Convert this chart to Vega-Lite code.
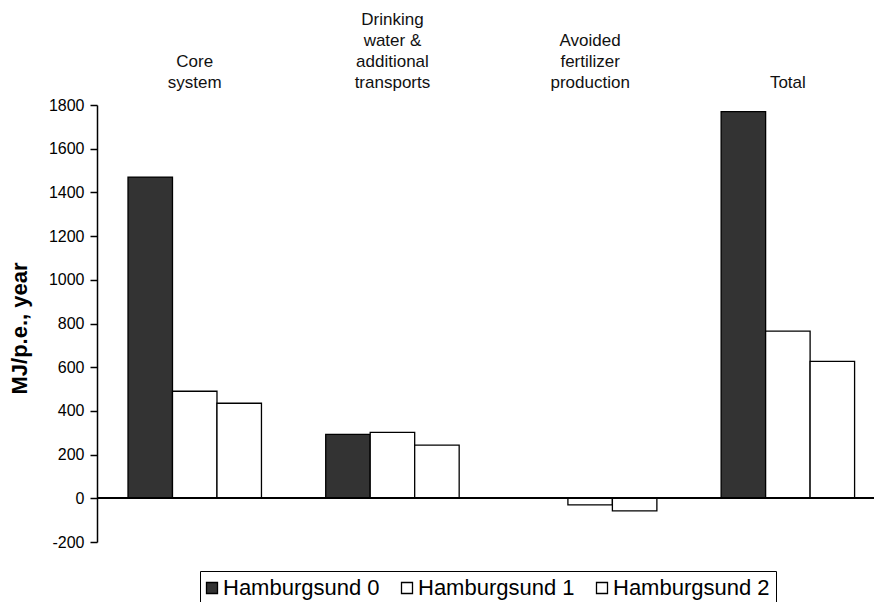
{
  "$schema": "https://vega.github.io/schema/vega-lite/v6.json",
  "width": 777,
  "height": 437,
  "autosize": {"type": "none"},
  "padding": {"left": 97, "top": 105, "right": 0, "bottom": 60},
  "background": "white",
  "config": {"view": {"stroke": null}, "font": "Liberation Sans"},
  "data": {
    "values": [
      {"category": "Core system", "series": "Hamburgsund 0", "value": 1470},
      {"category": "Core system", "series": "Hamburgsund 1", "value": 490},
      {"category": "Core system", "series": "Hamburgsund 2", "value": 435},
      {"category": "Drinking water & additional transports", "series": "Hamburgsund 0", "value": 293},
      {"category": "Drinking water & additional transports", "series": "Hamburgsund 1", "value": 302},
      {"category": "Drinking water & additional transports", "series": "Hamburgsund 2", "value": 243},
      {"category": "Avoided fertilizer production", "series": "Hamburgsund 0", "value": 0},
      {"category": "Avoided fertilizer production", "series": "Hamburgsund 1", "value": -30},
      {"category": "Avoided fertilizer production", "series": "Hamburgsund 2", "value": -58},
      {"category": "Total", "series": "Hamburgsund 0", "value": 1770},
      {"category": "Total", "series": "Hamburgsund 1", "value": 765},
      {"category": "Total", "series": "Hamburgsund 2", "value": 627}
    ]
  },
  "layer": [
    {
      "mark": {"type": "bar", "stroke": "black", "strokeWidth": 1.3},
      "encoding": {
        "x": {
          "field": "category",
          "type": "nominal",
          "sort": null,
          "scale": {"paddingInner": 0.325, "paddingOuter": 0.1275, "align": 0.615},
          "axis": {
            "orient": "top",
            "title": null,
            "domain": false,
            "ticks": false,
            "tickSize": 0,
            "labelPadding": {
              "condition": [
                {"test": "datum.value == 'Total'", "value": 14},
                {"test": "datum.value == 'Core system'", "value": 35},
                {"test": "datum.value == 'Avoided fertilizer production'", "value": 56}
              ],
              "value": 77
            },
            "labelAngle": 0,
            "labelFontSize": 17,
            "labelLineHeight": 21,
            "labelExpr": "datum.value == 'Core system' ? ['Core','system'] : datum.value == 'Drinking water & additional transports' ? ['Drinking','water &','additional','transports'] : datum.value == 'Avoided fertilizer production' ? ['Avoided','fertilizer','production'] : datum.label",
            "labelColor": "#111111",
            "labelLimit": 0
          }
        },
        "xOffset": {
          "field": "series",
          "type": "nominal",
          "scale": {"paddingInner": 0, "paddingOuter": 0}
        },
        "y": {
          "field": "value",
          "type": "quantitative",
          "scale": {"domain": [-200, 1800], "nice": false, "zero": false},
          "axis": {
            "title": "MJ/p.e., year",
            "titleFontSize": 22,
            "titleFontWeight": "bold",
            "titleColor": "black",
            "titleX": -66,
            "titleY": 223,
            "values": [-200, 0, 200, 400, 600, 800, 1000, 1200, 1400, 1600, 1800],
            "labelExpr": "'' + datum.value",
            "grid": false,
            "domainColor": "black",
            "domainWidth": 1.5,
            "tickColor": "black",
            "tickWidth": 1.5,
            "tickSize": 7,
            "labelFontSize": 16,
            "labelPadding": 6,
            "labelColor": "black"
          }
        },
        "fill": {
          "field": "series",
          "type": "nominal",
          "scale": {
            "domain": ["Hamburgsund 0", "Hamburgsund 1", "Hamburgsund 2"],
            "range": ["#333333", "white", "white"]
          },
          "legend": {
            "orient": "none",
            "legendX": 103,
            "legendY": 466,
            "direction": "horizontal",
            "title": null,
            "symbolType": "square",
            "symbolSize": 121,
            "symbolStrokeColor": "black",
            "symbolStrokeWidth": 1.3,
            "symbolOpacity": 1,
            "symbolOffset": -5,
            "labelFontSize": 22,
            "labelOffset": 0,
            "columnPadding": 18,
            "padding": 6,
            "strokeColor": "black",
            "labelColor": "black",
            "labelLimit": 0
          }
        }
      }
    },
    {
      "mark": {"type": "rule", "color": "black", "strokeWidth": 1.5},
      "encoding": {"y": {"datum": 0}}
    }
  ]
}
